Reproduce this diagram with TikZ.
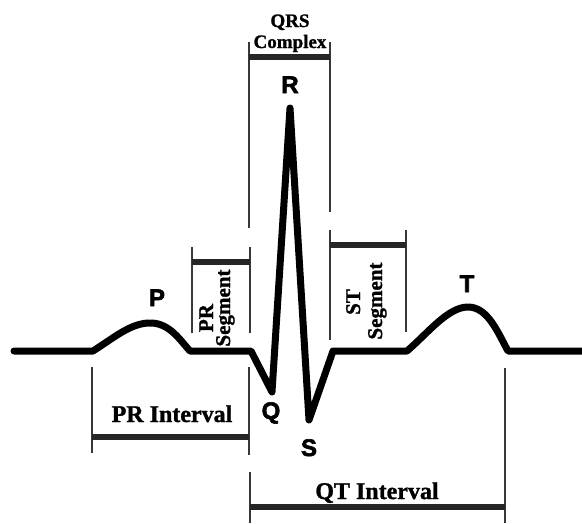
\documentclass[tikz,border=0pt]{standalone}
\usepackage{fontspec}
\setmainfont{Liberation Serif}[BoldFeatures={FakeBold=1.2}]
\newfontfamily\lsans{Liberation Sans}[BoldFeatures={FakeBold=2.5}]
\begin{document}
\begin{tikzpicture}[x=1pt,y=-1pt,
  wave/.style={line width=7pt,line join=round,line cap=round,black},
  vline/.style={line width=2pt,draw=black!78},
  bar/.style={line width=6pt,draw=black!85},
  lbl/.style={font=\lsans\bfseries\fontsize{24}{24}\selectfont,anchor=base,inner sep=0pt},
  txt/.style={font=\bfseries\fontsize{24}{24}\selectfont,anchor=base,inner sep=0pt},
  stxt/.style={font=\bfseries\fontsize{21}{21}\selectfont,anchor=base,inner sep=0pt,rotate=90},
  qtxt/.style={font=\bfseries\fontsize{19}{19}\selectfont,anchor=base,inner sep=0pt}]
\useasboundingbox (0,0) rectangle (582,523);
% waveform
\draw[wave] (14,351) -- (93,351)
  .. controls (115,337) and (132,322) .. (152,323)
  .. controls (170,324) and (180,340) .. (190,351)
  -- (251,351) -- (272,392) -- (290,108) -- (309,420) -- (333,351) -- (407,351)
  .. controls (428,333) and (448,307) .. (468,307)
  .. controls (488,307) and (498,333) .. (508,351) -- (582,351);
% QRS complex bracket
\coordinate (qa) at (249,42); \coordinate (qb) at (330,42);
\draw[vline] (qa) -- (249,228);
\draw[vline] (qb) -- (330,212);
\draw[bar] (249,57) -- (330,57);
\node[qtxt] (qrs) at (290,27) {QRS};
\node[qtxt] (cpx) at (290,48) {Complex};
% PR segment
\draw[vline] (192,247) -- (192,333);
\draw[vline] (250,247) -- (250,333);
\draw[bar] (192,262) -- (250,262);
\node[stxt] (prs1) at (213,318) {PR};
\node[stxt] (prs2) at (230,308) {Segment};
% ST segment
\draw[vline] (330,230) -- (330,340);
\draw[vline] (406,230) -- (406,332);
\draw[bar] (330,245) -- (406,245);
\node[stxt] (sts1) at (360,302) {ST};
\node[stxt] (sts2) at (382,301) {Segment};
% PR interval
\draw[vline] (92,367) -- (92,453);
\draw[vline] (249,367) -- (249,455);
\draw[bar] (92,437) -- (249,437);
\node[txt] (pri) at (172,422) {PR Interval};
% QT interval
\draw[vline] (250,472) -- (250,523);
\draw[vline] (505,368) -- (505,523);
\draw[bar] (250,507) -- (505,507);
\node[txt] (qti) at (377,499) {QT Interval};
% wave labels
\node[lbl] (P) at (157,306) {P};
\node[lbl] (R) at (290,93) {R};
\node[lbl] (Q) at (271,419) {Q};
\node[lbl] (S) at (309,456) {S};
\node[lbl] (T) at (467,292) {T};
\end{tikzpicture}
\end{document}
